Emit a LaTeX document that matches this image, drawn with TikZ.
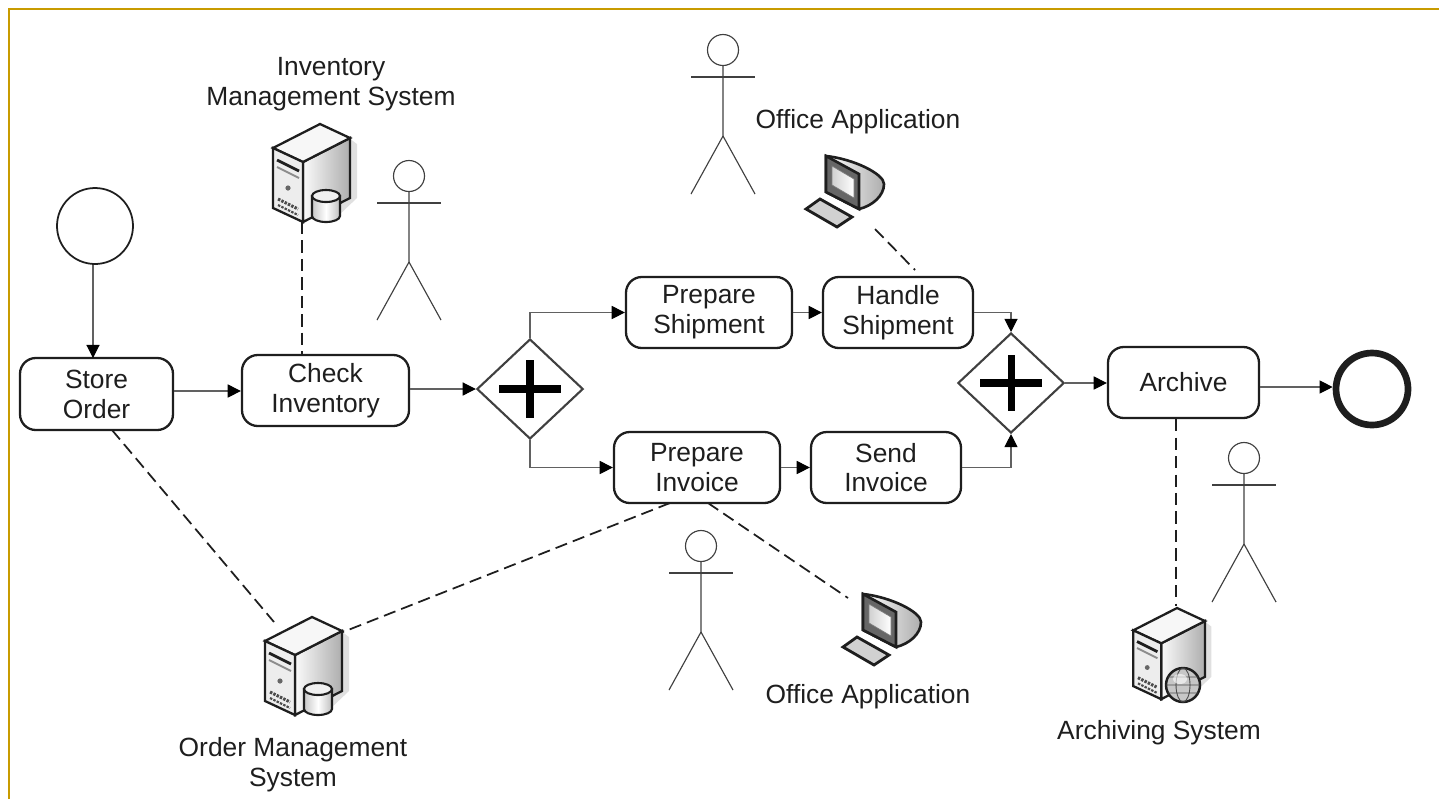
\documentclass[tikz,border=0pt]{standalone}
\usepackage{fontspec}
\setmainfont{Liberation Sans}
\usetikzlibrary{arrows.meta,shapes.geometric,positioning}
\definecolor{ink}{HTML}{1E1E1E}
\definecolor{gold}{HTML}{C89B00}
\tikzset{
  x=0.02cm,y=-0.02cm,
  every node/.style={font=\fontsize{15}{17}\selectfont,text=ink,align=center},
  task/.style={draw=ink,line width=1.3pt,rounded corners=9pt,fill=white,inner sep=0pt},
  gate/.style={draw=ink!85,line width=1.2pt,diamond,aspect=1.06,fill=white,inner sep=0pt,minimum width=3.02cm/1.42,minimum height=2cm},
  flow/.style={draw=ink!70,line width=0.6pt,-{Triangle[length=7.5pt,width=7.5pt,color=black]}},
  assoc/.style={draw=ink,line width=1pt,dash pattern=on 7pt off 3.5pt},
  actorline/.style={draw=ink!85,line width=0.65pt},
  event/.style={circle,draw=ink,fill=white,inner sep=0pt},
  label/.style={inner sep=0pt},
  pics/actor/.style={code={
    \draw[actorline] (0,0) circle (15.5);
    \draw[actorline] (-32,27) -- (32,27);
    \draw[actorline] (0,15.5) -- (0,86) -- (-32,144);
    \draw[actorline] (0,86) -- (32,144);
  }},
  pics/tower/.style={code={
    \fill[black!12] (29,14) -- (37,20) -- (37,74) -- (18,92) -- (0,70) -- cycle;
    \filldraw[draw=ink,line width=1.3pt,left color=black!2,right color=black!32]
      (-17,38) -- (30,14) -- (30,74) -- (-17,98) -- cycle;
    \filldraw[draw=ink,line width=1.3pt,fill=black!3]
      (-47,24) -- (0,0) -- (30,14) -- (-17,38) -- cycle;
    \filldraw[draw=ink,line width=1.3pt,fill=black!7]
      (-47,24) -- (-17,38) -- (-17,98) -- (-47,84) -- cycle;
    \draw[ink,line width=1.6pt] (-43,36) -- (-21,47);
    \draw[black!45,line width=1.1pt] (-43,43) -- (-21,54);
    \fill[black!60] (-32,64) circle (2.6);
    \draw[ink!80,line width=1.7pt,dash pattern=on 1.4pt off .7pt] (-42,75) -- (-22,85);
    \draw[ink!80,line width=1.2pt,dash pattern=on 1.4pt off .7pt] (-42,81) -- (-22,91);
  }},
  pics/drum/.style={code={
    \filldraw[draw=ink,line width=1.2pt,left color=black!22,right color=black!25,middle color=white]
      (-14,-10) -- (-14,10) arc[start angle=180,end angle=0,x radius=14,y radius=6] -- (14,-10) -- cycle;
    \filldraw[draw=ink,line width=1.2pt,fill=black!6] (0,-10) ellipse[x radius=14,y radius=6];
  }},
  pics/globe/.style={code={
    \filldraw[draw=ink,line width=1.4pt,fill=black!22] (0,0) circle (17);
    \draw[ink!80,line width=.5pt] (0,0) ellipse[x radius=7,y radius=17] (-17,0) -- (17,0) (-15,-8) -- (15,-8) (-15,8) -- (15,8);
    \fill[white,opacity=.6] (-3,-6) ellipse[x radius=7,y radius=5];
  }},
  pics/computer/.style={code={
    \filldraw[draw=ink,line width=1.5pt,left color=white,right color=black!32]
      (0,0) .. controls (28,3) and (58,18) .. (58,28) .. controls (58,40) and (46,50) .. (33,53) -- (0,36) -- cycle;
    \filldraw[draw=ink,line width=1.5pt,fill=black!60] (0,0) -- (33,18) -- (33,53) -- (0,36) -- cycle;
    \filldraw[draw=black!50,line width=.4pt,left color=black!18,right color=white] (6,10) -- (28,23) -- (28,42) -- (6,29) -- cycle;
    \filldraw[draw=ink,line width=1.6pt,fill=black!18] (-6,43) -- (26,61) -- (11,71) -- (-20,53) -- cycle;
  }}
}
\newcommand{\taskbox}[6]{\node[task,minimum width=#3*0.02cm,minimum height=#4*0.02cm] (#5) at (#1,#2) {#6};}
\begin{document}
\begin{tikzpicture}
\useasboundingbox (0,0) rectangle (1439,799);
\draw[gold,line width=1.2pt] (9,799) -- (9,9) -- (1439,9);

% events
\node[event,line width=1pt,minimum size=76*0.02cm] (start) at (95,226) {};
\node[event,line width=3.8pt,minimum size=72*0.02cm] (end) at (1372,389) {};

% tasks
\taskbox{96.5}{394}{153}{72}{store}{Store\\Order}
\taskbox{325.5}{390.5}{167}{71}{check}{Check\\Inventory}
\taskbox{709}{312.5}{166}{71}{pship}{Prepare\\Shipment}
\taskbox{898}{312.5}{150}{71}{hship}{Handle\\Shipment}
\taskbox{697}{467.5}{166}{71}{pinv}{Prepare\\Invoice}
\taskbox{886}{467.5}{150}{71}{sinv}{Send\\Invoice}
\taskbox{1183.5}{382.5}{151}{71}{arch}{Archive}

% gateways
\node[gate] (g1) at (530,389) {};
\draw[line width=4pt,black] (499,389) -- (561,389) (530,360) -- (530,418);
\node[gate] (g2) at (1011,383) {};
\draw[line width=4pt,black] (980,383) -- (1042,383) (1011,355) -- (1011,411);

% actors
\pic at (409,176) {actor};
\pic at (723,50) {actor};
\pic at (701,546) {actor};
\pic at (1244,458) {actor};

% icons and their association ends
\pic at (320,124) {tower};
\pic at (326,206) {drum};
\coordinate (invsrv) at (302,222);
\pic at (312,617) {tower};
\pic at (318,699) {drum};
\coordinate (ordsrvA) at (274,622);
\coordinate (ordsrvB) at (343,632);
\pic at (1177,608) [scale=.93] {tower};
\pic at (1183,685) {globe};
\coordinate (arcsrv) at (1176,606);
\pic at (826,156) {computer};
\coordinate (mon1) at (875,229);
\pic at (863,594) {computer};
\coordinate (mon2) at (848,598);

% flows
\draw[flow] (start.south -| 93,0) -- (93,358);
\draw[flow] (store.east |- 0,391) -- (check.west |- 0,391);
\draw[flow] (check.east |- g1.west) -- (g1.west);
\draw[flow] (g1.north) |- (pship.west);
\draw[flow] (g1.south) |- (pinv.west);
\draw[flow] (pship.east) -- (hship.west);
\draw[flow] (pinv.east) -- (sinv.west);
\draw[flow] (hship.east) -| (g2.north);
\draw[flow] (sinv.east) -| (g2.south);
\draw[flow] (g2.east) -- (arch.west |- g2.east);
\draw[flow] (arch.east |- 0,387) -- (end.west |- 0,387);

% associations
\draw[assoc] (invsrv) -- (check.north -| invsrv);
\draw[assoc] (mon1) -- (915,270);
\draw[assoc] (112,430) -- (ordsrvA);
\draw[assoc] (670,503) -- (ordsrvB);
\draw[assoc] (708,503) -- (mon2);
\draw[assoc] (arch.south -| arcsrv) -- (arcsrv);

% labels
\node[label] (l1) at (331,84) {Inventory\\Management System};
\node[label] (l2) at (858,122) {Office Application};
\node[label] (l3) at (868,697) {Office Application};
\node[label] (l4) at (293,765) {Order Management\\System};
\node[label] (l5) at (1159,733) {Archiving System};
\end{tikzpicture}
\end{document}
